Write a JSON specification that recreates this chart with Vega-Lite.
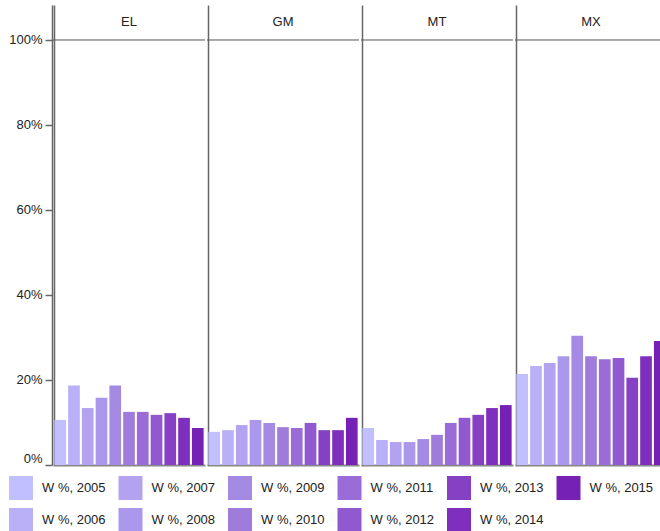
{
 "$schema": "https://vega.github.io/schema/vega-lite/v6.json",
 "padding": {"left": 8, "top": 5, "right": 0, "bottom": 0},
 "data": {"values": [
  {"group":"EL","year":2005,"value":10.6},{"group":"EL","year":2006,"value":18.7},{"group":"EL","year":2007,"value":13.4},{"group":"EL","year":2008,"value":15.8},{"group":"EL","year":2009,"value":18.7},{"group":"EL","year":2010,"value":12.5},{"group":"EL","year":2011,"value":12.5},{"group":"EL","year":2012,"value":11.8},{"group":"EL","year":2013,"value":12.2},{"group":"EL","year":2014,"value":11.1},{"group":"EL","year":2015,"value":8.7},
  {"group":"GM","year":2005,"value":7.8},{"group":"GM","year":2006,"value":8.2},{"group":"GM","year":2007,"value":9.4},{"group":"GM","year":2008,"value":10.6},{"group":"GM","year":2009,"value":9.9},{"group":"GM","year":2010,"value":8.9},{"group":"GM","year":2011,"value":8.7},{"group":"GM","year":2012,"value":9.9},{"group":"GM","year":2013,"value":8.2},{"group":"GM","year":2014,"value":8.2},{"group":"GM","year":2015,"value":11.1},
  {"group":"MT","year":2005,"value":8.7},{"group":"MT","year":2006,"value":5.9},{"group":"MT","year":2007,"value":5.4},{"group":"MT","year":2008,"value":5.4},{"group":"MT","year":2009,"value":6.1},{"group":"MT","year":2010,"value":7.1},{"group":"MT","year":2011,"value":9.9},{"group":"MT","year":2012,"value":11.1},{"group":"MT","year":2013,"value":11.8},{"group":"MT","year":2014,"value":13.4},{"group":"MT","year":2015,"value":14.1},
  {"group":"MX","year":2005,"value":21.4},{"group":"MX","year":2006,"value":23.3},{"group":"MX","year":2007,"value":24.0},{"group":"MX","year":2008,"value":25.6},{"group":"MX","year":2009,"value":30.4},{"group":"MX","year":2010,"value":25.6},{"group":"MX","year":2011,"value":24.9},{"group":"MX","year":2012,"value":25.2},{"group":"MX","year":2013,"value":20.5},{"group":"MX","year":2014,"value":25.6},{"group":"MX","year":2015,"value":29.2}
 ]},
 "facet": {"column": {"field": "group", "type": "nominal", "header": {"labels": false, "title": null}}},
 "spacing": 0,
 "spec": {
  "width": 152,
  "height": 460,
  "layer": [
   {
    "mark": {"type": "bar"},
    "encoding": {
     "x": {"field": "year", "type": "ordinal", "scale": {"paddingInner": 0.15, "paddingOuter": 0.1},
       "axis": {"title": null, "labels": false, "ticks": false, "domainColor": "#888", "domainWidth": 2, "grid": true, "gridColor": "#666", "gridWidth": 1.5, "values": [2005], "bandPosition": 0}},
     "y": {"field": "value", "type": "quantitative", "scale": {"domain": [0, 108.235], "nice": false},
       "axis": {"title": null, "values": [0, 20, 40, 60, 80, 100], "labelExpr": "datum.value + '%'", "grid": false, "domainColor": "#666", "domainWidth": 1.5, "tickColor": "#666", "tickSize": 7, "tickWidth": 1.5, "labelPadding": 3, "labelFontSize": 13, "labelFont": "Liberation Sans", "labelColor": "#222", "labelFlush": true}},
     "color": {"field": "year", "type": "nominal",
       "scale": {"domain": [2005, 2007, 2009, 2011, 2013, 2015, 2006, 2008, 2010, 2012, 2014],
                 "range": ["#c1bffd", "#b3a2f0", "#a48ae3", "#9a6cd8", "#8640c3", "#7521b5", "#b9b0f7", "#ab97eb", "#9f7bdc", "#9059d0", "#7e2fbd"]},
       "legend": {"title": null, "orient": "none", "legendX": -44, "legendY": 471, "direction": "horizontal", "columns": 6, "symbolType": "square", "symbolSize": 576, "symbolStrokeWidth": 0, "labelFontSize": 13, "labelFont": "Liberation Sans", "labelColor": "#222", "labelOffset": 9, "columnPadding": 12.5, "rowPadding": 8, "padding": 0, "labelExpr": "'W %, ' + datum.label"}}
    }
   },
   {
    "transform": [{"filter": "datum.year == 2005"}],
    "mark": {"type": "rule", "color": "#555", "strokeWidth": 1},
    "encoding": {"y": {"datum": 100}}
   },
   {
    "transform": [{"filter": "datum.year == 2010"}],
    "mark": {"type": "text", "fontSize": 13, "font": "Liberation Sans", "color": "#222", "baseline": "middle"},
    "encoding": {"x": {"field": "year", "type": "ordinal"}, "y": {"datum": 104.2}, "text": {"field": "group"}}
   }
  ]
 },
 "config": {"view": {"stroke": null}}
}
